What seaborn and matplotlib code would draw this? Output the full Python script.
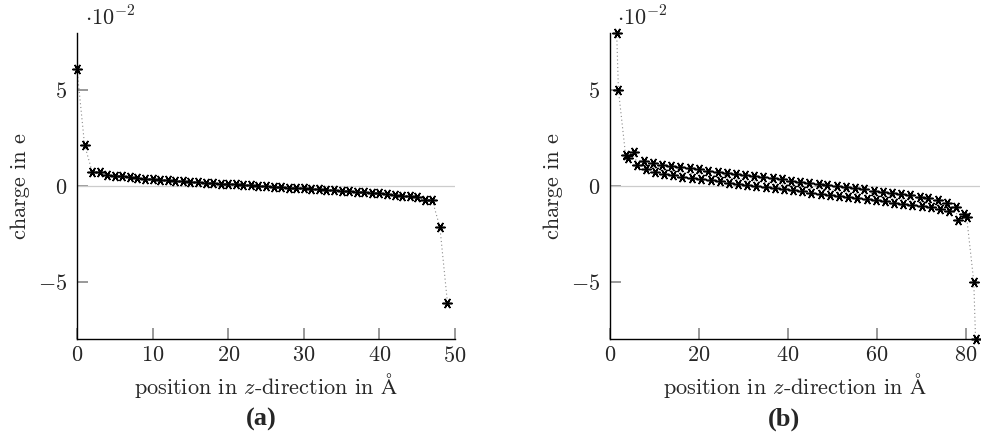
import numpy as np
import pandas as pd
import matplotlib
matplotlib.use("Agg")
import matplotlib.pyplot as plt
import seaborn as sns

# ---------------- data (charges in units of 1e-2 e) ----------------
a_pos = [0, 1, 2, 3, 4, 5, 6, 7, 8, 9, 10, 11, 12, 13, 14, 15, 16, 17, 18, 19,
         20, 21, 22, 23, 24, 25, 26, 27, 28, 29, 30, 31, 32, 33, 34, 35, 36, 37, 38, 39,
         40, 41, 42, 43, 44, 45, 46, 47, 48, 49]
a_charge = [6.10, 2.15, 0.75, 0.72, 0.60, 0.54, 0.50, 0.46, 0.42, 0.39,
            0.36, 0.33, 0.30, 0.27, 0.25, 0.22, 0.20, 0.18, 0.15, 0.13,
            0.11, 0.08, 0.06, 0.04, 0.01, -0.01, -0.04, -0.06, -0.08, -0.11,
            -0.13, -0.15, -0.18, -0.20, -0.22, -0.25, -0.27, -0.30, -0.33, -0.36,
            -0.39, -0.42, -0.46, -0.50, -0.54, -0.60, -0.72, -0.75, -2.15, -6.10]

b_pos_upper = [1.5, 3.5, 5.5, 7.6, 9.6, 11.7, 13.7, 15.8, 18.0, 20.0,
               22.1, 24.2, 26.2, 28.3, 30.4, 32.4, 34.5, 36.6, 38.6, 40.7,
               42.7, 44.8, 46.9, 48.9, 51.0, 53.1, 55.1, 57.2, 59.3, 61.3,
               63.4, 65.4, 67.5, 69.6, 71.6, 73.7, 75.7, 77.7, 79.6, 81.8]
b_charge_upper = [8.00, 1.63, 1.80, 1.30, 1.20, 1.12, 1.06, 0.99, 0.93, 0.87,
                  0.81, 0.75, 0.70, 0.64, 0.58, 0.52, 0.46, 0.40, 0.34, 0.28,
                  0.22, 0.17, 0.11, 0.06, 0.00, -0.06, -0.12, -0.18, -0.24, -0.30,
                  -0.36, -0.42, -0.49, -0.56, -0.64, -0.74, -0.88, -1.10, -1.45, -5.00]
b_pos_lower = [1.9, 4.1, 6.0, 8.1, 10.1, 12.2, 14.2, 16.3, 18.5, 20.5,
               22.6, 24.7, 26.7, 28.8, 30.9, 32.9, 35.0, 37.1, 39.1, 41.2,
               43.2, 45.3, 47.4, 49.4, 51.5, 53.6, 55.6, 57.7, 59.8, 61.8,
               63.9, 65.9, 68.0, 70.1, 72.1, 74.2, 76.2, 78.2, 80.2, 82.2]
b_charge_lower = [5.00, 1.45, 1.10, 0.88, 0.74, 0.64, 0.56, 0.49, 0.42, 0.36,
                  0.30, 0.24, 0.18, 0.12, 0.06, 0.00, -0.06, -0.11, -0.17, -0.22,
                  -0.28, -0.34, -0.40, -0.46, -0.52, -0.58, -0.64, -0.70, -0.75, -0.81,
                  -0.87, -0.93, -0.99, -1.06, -1.12, -1.20, -1.30, -1.80, -1.63, -8.00]

a_xticks = [0, 10, 20, 30, 40, 50]
b_xticks = [0, 20, 40, 60, 80]
yticks = [-5, 0, 5]

df_a = pd.DataFrame({"pos": a_pos, "charge": a_charge})
df_b = pd.concat([
    pd.DataFrame({"pos": b_pos_upper, "charge": b_charge_upper}),
    pd.DataFrame({"pos": b_pos_lower, "charge": b_charge_lower}),
]).sort_values("pos").reset_index(drop=True)

# ---------------- style ----------------
sns.set_theme(style="white")
plt.rcParams["font.family"] = ["cmr10", "DejaVu Serif"]
plt.rcParams["mathtext.fontset"] = "cm"
plt.rcParams["axes.formatter.use_mathtext"] = True
plt.rcParams["axes.unicode_minus"] = True

W, H = 981, 436
fig = plt.figure(figsize=(W / 100, H / 100), dpi=100)

FS = 16
star = (6, 2, 90)

panels = [
    dict(df=df_a, left=77, right=455, xlim=(0, 50), xticks=a_xticks, cap="(a)",
         capx=261),
    dict(df=df_b, left=610, right=980, xlim=(0, 83.2), xticks=b_xticks, cap="(b)",
         capx=784),
]

top, bottom = 33, 339
for p in panels:
    ax = fig.add_axes([p["left"] / W, 1 - bottom / H,
                       (p["right"] - p["left"]) / W, (bottom - top) / H])
    ax.axhline(0, color="#cccccc", lw=0.9, zorder=1)
    sns.lineplot(data=p["df"], x="pos", y="charge", ax=ax, sort=False,
                 color="#8a8a8a", lw=0.8, linestyle=(0, (1, 2.4)), zorder=2,
                 estimator=None)
    sns.scatterplot(data=p["df"], x="pos", y="charge", ax=ax, marker=star,
                    s=45, color="black", edgecolor="black", linewidth=1.15,
                    zorder=3, clip_on=False)
    ax.set_xlim(*p["xlim"])
    ax.set_ylim(-8, 8)
    ax.set_xticks(p["xticks"])
    ax.set_yticks(yticks)
    for s in ["top", "right"]:
        ax.spines[s].set_visible(False)
    for s in ["left", "bottom"]:
        ax.spines[s].set_color("black")
        ax.spines[s].set_linewidth(1.0)
    ax.tick_params(direction="in", length=8, width=1.2, color="#888888",
                   labelsize=FS, pad=5, left=True, bottom=True)
    ax.tick_params(axis="y", pad=7)
    ax.set_xlabel(r"position in $z$-direction in $\mathrm{\AA}$",
                  fontsize=FS, labelpad=4)
    ax.set_ylabel("charge in e", fontsize=FS, labelpad=6)
    ax.grid(False)
    ax.text(0.02, 1.012, r"$\cdot 10^{-2}$", transform=ax.transAxes,
            fontsize=FS, ha="left", va="bottom")
    fig.text(p["capx"] / W, 1 - 419 / H, p["cap"], fontsize=19,
             fontweight="bold", family="Liberation Serif",
             ha="center", va="center")

fig.savefig("out.png", dpi=100)
